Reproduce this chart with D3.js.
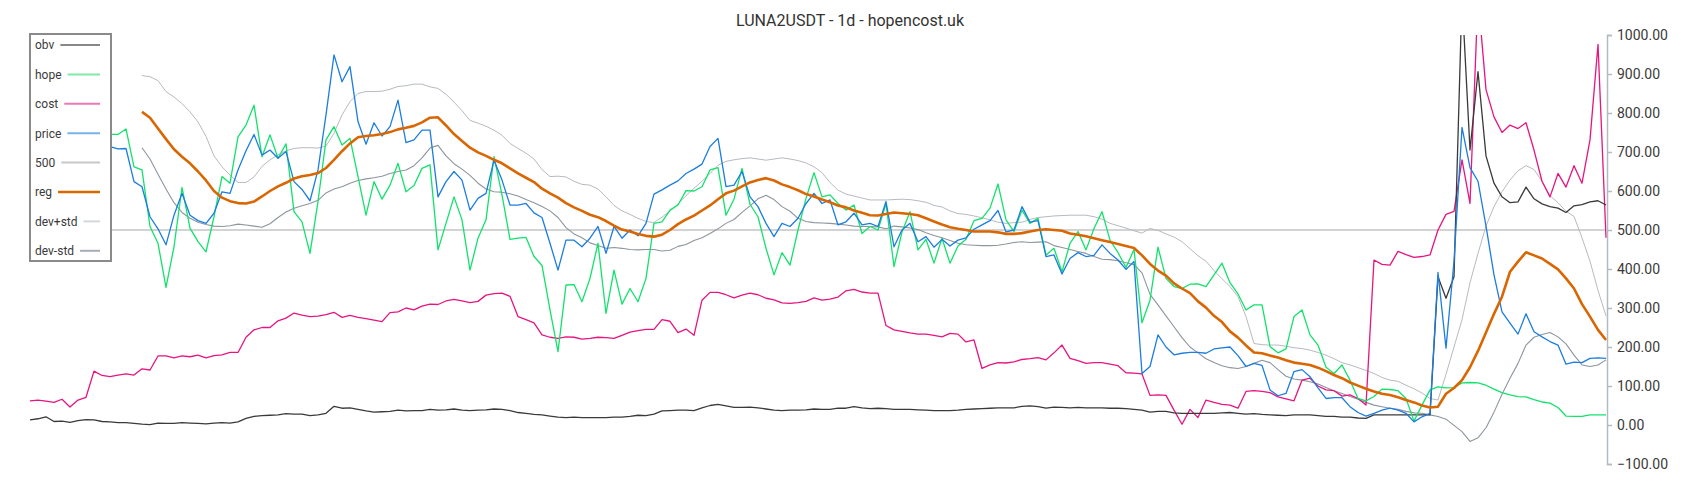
<!DOCTYPE html>
<html><head><meta charset="utf-8">
<script src="https://cdn.jsdelivr.net/npm/d3@7"></script>
<style>body{margin:0;background:#fff;} text{font-family:Roboto,"Noto Sans",sans-serif;}</style>
</head><body>
<svg id="chart" width="1700" height="500"></svg>
<script>
const title = "LUNA2USDT - 1d - hopencost.uk";
const legendLabels = ["obv","hope","cost","price","500","reg","dev+std","dev-std"];
const yTicks = [-100,0,100,200,300,400,500,600,700,800,900,1000];
const level500 = 500;
const N = 198;
const _ = null;

const obv = [13,16,21,9,10,7,11,14,13,9,8,6,6,4,2,1,5,4,4,6,5,4,3,5,6,5,8,17,22,24,25,26,29,28,28,24,26,30,48,43,44,40,36,33,34,35,38,36,37,37,40,38,39,41,38,37,38,39,41,40,37,32,30,27,26,23,20,19,20,19,19,19,19,20,20,22,25,24,28,36,37,38,38,37,44,50,53,49,45,45,46,44,41,38,37,38,38,39,41,40,40,43,43,47,44,42,43,42,40,40,40,39,38,37,37,37,38,40,41,42,43,44,44,44,48,49,47,43,46,45,44,45,44,44,44,43,43,42,40,38,33,35,35,31,30,30,30,30,30,31,32,30,28,29,27,26,25,24,26,26,26,24,22,22,20,20,18,17,26,26,26,26,26,26,26,26,380,325,380,1100,705,906,690,620,585,570,572,610,580,567,560,556,545,562,565,572,575,564];

const hope = [_,_,_,_,_,_,_,_,_,_,745,745,759,662,654,509,466,353,457,609,505,470,444,534,637,620,739,769,820,688,744,684,721,547,521,440,573,731,765,718,735,637,538,624,579,615,671,598,614,658,667,449,517,585,526,397,479,526,688,590,476,479,481,432,409,295,188,359,360,316,376,466,286,397,310,350,316,376,517,521,551,564,601,600,611,654,660,538,579,658,566,534,453,385,442,410,500,581,647,585,590,568,551,564,491,509,500,568,406,495,547,449,476,415,479,415,459,476,524,530,556,618,526,496,551,517,530,436,453,393,466,496,449,504,547,474,442,404,450,262,320,456,376,355,350,361,362,355,385,415,365,336,295,308,308,201,185,195,278,295,231,205,148,132,154,115,68,62,73,92,91,88,68,10,51,90,98,95,96,108,109,108,102,92,83,77,73,72,65,59,56,45,23,22,22,26,26,26];

const cost = [62,64,61,58,66,46,64,71,138,127,124,128,131,128,144,141,177,177,172,177,175,179,172,178,180,186,186,225,244,250,250,267,274,287,282,278,279,283,289,276,281,276,273,269,265,288,290,300,295,305,310,309,318,322,318,314,317,333,337,338,330,278,270,262,231,225,222,226,225,220,222,225,224,222,230,238,242,245,245,270,266,237,246,230,320,340,340,334,326,333,338,334,325,321,313,312,314,317,326,320,323,328,344,348,341,338,338,255,244,240,236,233,233,230,226,235,233,213,218,145,154,160,159,162,168,170,173,167,185,205,171,165,158,160,160,156,152,134,133,131,76,77,76,38,2,40,19,64,58,53,51,43,86,88,86,83,72,67,62,115,120,100,90,88,74,77,68,51,423,412,410,445,437,430,432,436,500,540,548,680,568,1100,860,790,750,769,760,775,705,625,585,645,610,665,620,731,976,480];

const price = [_,_,_,_,_,_,_,_,_,_,714,708,709,624,611,534,503,462,538,594,538,524,517,543,598,594,654,703,745,692,705,684,701,624,604,575,654,795,949,880,919,778,720,775,741,765,833,724,731,756,756,585,624,650,628,551,581,594,679,628,564,564,568,544,532,466,397,474,474,457,479,509,440,509,479,500,485,517,592,603,615,626,645,656,669,714,735,611,615,650,585,560,517,483,517,509,530,568,594,568,577,513,521,543,513,517,509,573,457,500,517,470,483,456,476,459,474,480,502,513,524,550,495,500,560,520,524,432,436,387,427,442,432,435,462,440,423,399,419,132,150,231,200,180,184,186,186,184,195,198,200,178,150,158,153,90,75,81,137,142,124,95,68,70,70,47,32,23,30,38,43,38,30,8,21,30,391,197,420,763,660,625,510,385,290,261,233,285,239,226,214,205,156,161,160,171,172,171];

const reg = [_,_,_,_,_,_,_,_,_,_,_,_,_,_,803,788,760,733,707,688,671,650,627,600,583,574,569,568,573,586,600,612,621,632,638,641,646,659,680,702,722,738,741,743,746,751,758,762,767,776,788,789,768,746,728,711,699,690,680,671,658,645,634,623,606,594,583,569,558,549,539,533,523,511,501,496,490,485,483,488,500,515,527,537,550,563,579,594,601,612,622,628,633,627,617,610,602,592,586,578,571,563,558,550,544,538,537,541,545,543,541,538,530,522,514,507,503,500,496,496,496,494,490,490,492,496,500,502,500,498,491,488,484,479,474,469,464,459,454,435,413,396,383,363,350,338,317,301,280,264,240,224,204,186,184,178,173,166,160,157,154,147,138,128,120,109,101,93,86,80,77,71,64,58,50,45,47,80,95,115,148,190,237,285,329,393,419,443,435,427,413,399,376,350,310,278,244,218];

const devPlus = [_,_,_,_,_,_,_,_,_,_,_,_,_,_,896,893,883,855,841,824,803,777,740,690,662,641,622,622,636,663,680,693,703,709,711,711,710,715,748,795,829,850,855,855,856,861,868,870,874,874,867,863,848,828,806,781,774,766,756,743,722,709,697,682,655,637,638,636,625,617,615,605,585,563,549,540,530,522,519,533,549,567,588,607,625,645,666,676,680,683,685,682,679,682,685,682,678,672,662,647,622,602,592,587,582,577,577,577,578,579,578,575,571,563,559,549,542,540,536,531,526,520,517,519,520,527,532,534,536,537,538,538,538,534,528,517,511,505,498,492,504,499,490,482,470,452,434,420,396,375,355,329,278,209,206,205,205,202,198,196,192,186,179,170,160,154,147,140,132,122,115,112,102,93,82,68,64,130,200,270,365,440,510,560,598,628,652,665,655,625,588,570,548,535,480,420,345,280];

const devMinus = [_,_,_,_,_,_,_,_,_,_,_,_,_,_,711,682,643,605,570,545,530,520,514,510,509,511,515,513,510,507,516,532,546,556,562,568,576,595,605,611,620,627,631,634,638,645,650,654,665,685,710,717,690,670,656,640,620,605,598,597,593,587,578,570,560,549,532,506,490,480,467,460,453,455,453,450,449,450,450,446,448,458,463,473,480,491,503,517,527,545,562,580,589,578,560,548,530,522,519,518,517,515,513,510,509,509,508,503,510,508,505,501,493,486,480,473,466,462,461,460,460,461,464,468,470,468,469,470,460,455,450,445,440,432,425,424,421,416,411,390,335,308,280,252,224,200,185,170,160,152,147,145,150,158,166,160,142,125,118,115,111,105,96,88,81,73,66,58,51,47,43,40,35,31,30,26,22,15,-1,-17,-42,-33,-7,33,79,120,158,205,225,232,237,226,208,179,154,150,154,167];

const days = d3.range(N);

const svg = d3.select("#chart");
const x = d3.scaleLinear().domain([0, N - 1]).range([30, 1606]);
const y = d3.scaleLinear().domain([-100, 1000]).range([464, 35]);

svg.append("defs").append("clipPath").attr("id","plot")
  .append("rect").attr("x", 30).attr("y", y(1000)).attr("width", 1578).attr("height", y(-100) - y(1000));

const g = svg.append("g").attr("clip-path","url(#plot)");
const line = d3.line().defined(d => d[1] != null).x(d => x(d[0])).y(d => y(d[1]));
function draw(vals, color, w) {
  g.append("path").datum(days.map(i => [i, vals[i]]))
    .attr("fill","none").attr("stroke",color).attr("stroke-width",w)
    .attr("stroke-linejoin","round").attr("d", line);
}
draw(days.map(() => level500), "#c4c4c4", 1.6);
draw(devMinus, "#8d959d", 1.1);
draw(devPlus, "#b6bbc1", 1.0);
draw(cost, "#e6157f", 1.3);
draw(obv, "#3a3a3a", 1.3);
draw(hope, "#12e26c", 1.3);
draw(price, "#1c7de0", 1.3);
draw(reg, "#d96600", 2.6);

// right axis
const ax = svg.append("g").attr("transform","translate(1607,0)")
  .call(d3.axisRight(y).tickValues(yTicks).tickFormat(d3.format(".2f")).tickSize(5).tickPadding(5));
ax.select(".domain").attr("stroke","#b3bac1").attr("stroke-width",1.5);
ax.selectAll(".tick line").attr("stroke","#b3bac1").attr("stroke-width",1.5);
ax.selectAll(".tick text").attr("fill","#3a3a3a").style("font-size","14px").style("font-family","Roboto");

// title
svg.append("text").attr("x", 850).attr("y", 26).attr("text-anchor","middle")
  .attr("fill","#333").style("font-size","16px").text(title);

// legend
const legColors = ["#888888","#7eeaa6","#ee78b6","#78b2ea","#c8c8c8","#d96600","#d4d8dc","#a6adb4"];
const legWidths = [2,2,2,2,2,2.6,2,2];
const lg = svg.append("g");
lg.append("rect").attr("x",30).attr("y",34).attr("width",81).attr("height",227)
  .attr("fill","#fff").attr("stroke","#8a8a8a").attr("stroke-width",2);
legendLabels.forEach((lab, i) => {
  const cy = 45 + i * 29.4;
  const t = lg.append("text").attr("x",35).attr("y",cy + 4.3).attr("fill","#3a3a3a")
    .style("font-size","12px").text(lab);
  const tw = t.node().getComputedTextLength();
  lg.append("line").attr("x1", 35 + tw + 6).attr("x2", 100).attr("y1", cy).attr("y2", cy)
    .attr("stroke", legColors[i]).attr("stroke-width", legWidths[i]);
});
</script>
</body></html>
